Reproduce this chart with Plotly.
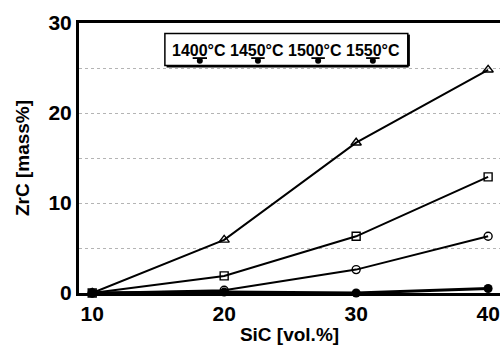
import plotly.graph_objects as go

sic = [10, 20, 30, 40]
temps = ["1400°C", "1450°C", "1500°C", "1550°C"]
zrc_1400 = [0.0, 0.1, 0.0, 0.5]
zrc_1450 = [0.0, 0.3, 2.6, 6.3]
zrc_1500 = [0.0, 1.9, 6.3, 12.9]
zrc_1550 = [0.0, 5.9, 16.7, 24.8]
x_ticks = [10, 20, 30, 40]
y_ticks = [0, 10, 20, 30]

series = [
    (zrc_1400, dict(symbol="circle", size=9, color="black"), 3),
    (zrc_1450, dict(symbol="circle-open", size=8, color="black", line=dict(width=1.4)), 2),
    (zrc_1500, dict(symbol="square-open", size=8, color="black", line=dict(width=1.4)), 2),
    (zrc_1550, dict(symbol="triangle-up-open", size=9, color="black", line=dict(width=1.4)), 2),
]

fig = go.Figure()
for vals, mk, lw in series:
    fig.add_trace(go.Scatter(x=sic, y=vals, mode="lines+markers",
                             line=dict(color="black", width=lw),
                             marker=mk, cliponaxis=False, showlegend=False))

# legend samples on an overlay axis (0-1 of plot area)
leg_x = [[0.270, 0.304], [0.409, 0.441], [0.552, 0.584], [0.682, 0.714]]
for x0, x1 in leg_x:
    fig.add_trace(go.Scatter(x=[x0, x1], y=[0.870, 0.870],
                             mode="lines", line=dict(color="black", width=1.8),
                             xaxis="x2", yaxis="y2", showlegend=False, hoverinfo="skip"))
    fig.add_trace(go.Scatter(x=[(x0 + x1) / 2], y=[0.860], mode="markers",
                             marker=dict(symbol="circle", size=6, color="black"),
                             xaxis="x2", yaxis="y2", showlegend=False, hoverinfo="skip"))

font = "Liberation Sans, Arial, sans-serif"
fig.update_layout(
    width=500, height=352,
    margin=dict(l=79, r=0, t=23, b=59),
    paper_bgcolor="white", plot_bgcolor="white",
    font=dict(family=font, color="black"),
    xaxis=dict(range=[9.0, 40.9], tickvals=x_ticks, showgrid=False, zeroline=False,
               showline=True, linecolor="black", linewidth=3, mirror=True,
               ticks="", ticklen=0, tickfont=dict(size=21, family=font, weight="bold"),
               title=dict(text="SiC [vol.%]", font=dict(size=19, weight="bold"), standoff=4)),
    yaxis=dict(range=[0, 30], tickvals=[0, 5, 10, 15, 20, 25, 30],
               ticktext=["0", "", "10", "", "20", "", "30"],
               showgrid=True, gridcolor="#b4b4b4", griddash="dot", gridwidth=1,
               zeroline=False, showline=True, linecolor="black", linewidth=3,
               ticks="", tickfont=dict(size=21, family=font, weight="bold"),
               title=dict(text="ZrC [mass%]", font=dict(size=19, weight="bold"), standoff=14)),
    xaxis2=dict(range=[0, 1], overlaying="x", visible=False),
    yaxis2=dict(range=[0, 1], overlaying="y", visible=False),
    shapes=[
        dict(type="rect", xref="paper", yref="paper", x0=0.204, x1=0.781, y0=0.843, y1=0.961,
             line=dict(color="black", width=1.5), fillcolor="white", layer="between"),
        dict(type="line", xref="paper", yref="paper", x0=0.783, x1=0.783, y0=0.84, y1=0.957,
             line=dict(color="black", width=2.5), layer="between"),
        dict(type="line", xref="paper", yref="paper", x0=0.208, x1=0.783, y0=0.840, y1=0.840,
             line=dict(color="black", width=2.5), layer="between"),
    ],
    annotations=[
        dict(text="1400°C 1450°C 1500°C 1550°C", xref="paper", yref="paper",
             x=0.492, y=0.897, showarrow=False,
             font=dict(size=16, family=font, weight="bold"), xanchor="center", yanchor="middle"),
    ],
)

fig.write_html("out.html")
